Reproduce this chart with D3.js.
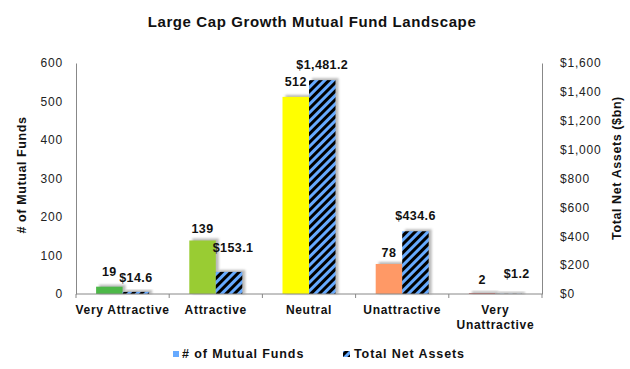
<!DOCTYPE html>
<html><head><meta charset="utf-8">
<script src="https://cdn.jsdelivr.net/npm/d3@7"></script>
<style>body{margin:0;background:#fff}svg{display:block;font-family:"Liberation Sans",Arial,sans-serif}</style>
</head><body><svg id="c" width="630" height="369"></svg>
<script>
const categories = ["Very Attractive","Attractive","Neutral","Unattractive","Very Unattractive"];
const fundCounts = [19,139,512,78,2];
const netAssets = [14.6,153.1,1481.2,434.6,1.2];
const fundColors = ["#4db848","#99cc33","#ffff00","#ff9966","#c0504d"];
const leftTicks = [0,100,200,300,400,500,600];
const rightTicks = [0,200,400,600,800,1000,1200,1400,1600];

const svg = d3.select("#c");
const m = {l:76, r:542, t:63, b:294};
const defs = svg.append("defs");
const pat = defs.append("pattern").attr("id","hatch").attr("patternUnits","userSpaceOnUse")
  .attr("width",6).attr("height",6).attr("patternTransform","rotate(45)");
pat.append("rect").attr("width",6).attr("height",6).attr("fill","#66aaff");
pat.append("rect").attr("width",3).attr("height",6).attr("fill","#000");
const f = defs.append("filter").attr("id","blur").attr("x","-20%").attr("y","-20%").attr("width","140%").attr("height","140%");
f.append("feGaussianBlur").attr("stdDeviation",1);

const x = d3.scaleBand().domain(categories).range([m.l,m.r]).paddingInner(0).paddingOuter(0);
const yL = d3.scaleLinear().domain([0,600]).range([m.b,m.t]);
const yR = d3.scaleLinear().domain([0,1600]).range([m.b,m.t]);
const bw = 26.5;

svg.append("text").attr("x",312).attr("y",27).attr("text-anchor","middle")
  .attr("font-size",15).attr("letter-spacing",0.6).attr("font-weight","bold").attr("fill","#111")
  .text("Large Cap Growth Mutual Fund Landscape");

const g = svg.append("g");
categories.forEach((c,i)=>{
  const cx = x(c)+x.bandwidth()/2;
  g.append("rect").attr("x",cx-bw+3).attr("y",yL(fundCounts[i])-2).attr("width",bw).attr("height",m.b-yL(fundCounts[i])+2)
    .attr("fill","#aaa").attr("filter","url(#blur)").attr("opacity",0.8);
  g.append("rect").attr("x",cx+3).attr("y",yR(netAssets[i])-2).attr("width",bw).attr("height",m.b-yR(netAssets[i])+2)
    .attr("fill","#aaa").attr("filter","url(#blur)").attr("opacity",0.8);
});
categories.forEach((c,i)=>{
  const cx = x(c)+x.bandwidth()/2;
  g.append("rect").attr("x",cx-bw).attr("y",yL(fundCounts[i])).attr("width",bw)
    .attr("height",m.b-yL(fundCounts[i])).attr("fill",fundColors[i]);
  g.append("rect").attr("x",cx).attr("y",yR(netAssets[i])).attr("width",bw)
    .attr("height",m.b-yR(netAssets[i])).attr("fill","url(#hatch)");
});
// value labels (small offsets to avoid overlap, as in the original)
const fundLabelGap = [11,7,11,7,9];
const assetLabelGap = [10,20,11,11,16];
const assetLabelShift = [0,4,0,0,8];
categories.forEach((c,i)=>{
  const cx = x(c)+x.bandwidth()/2;
  svg.append("text").attr("x",cx-bw/2).attr("y",yL(fundCounts[i])-fundLabelGap[i]).attr("text-anchor","middle")
    .attr("font-size",12.5).attr("letter-spacing",0.4).attr("font-weight","bold").attr("fill","#111").text(fundCounts[i]);
  svg.append("text").attr("x",cx+bw/2+assetLabelShift[i]).attr("y",yR(netAssets[i])-assetLabelGap[i]).attr("text-anchor","middle")
    .attr("font-size",12.5).attr("letter-spacing",0.4).attr("font-weight","bold").attr("fill","#111")
    .text("$"+d3.format(",.1f")(netAssets[i]));
});

const axL = svg.append("g").attr("transform",`translate(${m.l},0)`)
  .call(d3.axisLeft(yL).tickValues(leftTicks).tickSize(0).tickPadding(13));
const axR = svg.append("g").attr("transform",`translate(${m.r},0)`)
  .call(d3.axisRight(yR).tickValues(rightTicks).tickSize(0).tickPadding(18).tickFormat(d=>"$"+d3.format(",")(d)));
[axL,axR].forEach(a=>{
  a.select(".domain").attr("stroke","#888");
  a.selectAll("text").attr("font-size",12).attr("letter-spacing",0.8).attr("fill","#222")
    .attr("font-family","Liberation Sans, Arial, sans-serif");
});
const axB = svg.append("g").attr("transform",`translate(0,${m.b})`);
axB.append("line").attr("x1",m.l).attr("x2",m.r).attr("stroke","#888");
d3.range(categories.length+1).forEach(k=>{
  const xx = m.l + k*x.bandwidth();
  axB.append("line").attr("x1",xx).attr("x2",xx).attr("y1",0).attr("y2",4).attr("stroke","#888");
});
categories.forEach((c,i)=>{
  const cx = x(c)+x.bandwidth()/2;
  const lines = c==="Very Unattractive" ? ["Very","Unattractive"] : [c];
  lines.forEach((t,j)=>{
    axB.append("text").attr("x",cx).attr("y",20+j*15).attr("text-anchor","middle")
      .attr("font-size",12).attr("letter-spacing",0.7).attr("font-weight","bold").attr("fill","#111").text(t);
  });
});

svg.append("text").attr("transform",`translate(26,175) rotate(-90)`).attr("text-anchor","middle")
  .attr("font-size",12.5).attr("letter-spacing",0.6).attr("font-weight","bold").attr("fill","#111").text("# of Mutual Funds");
svg.append("text").attr("transform",`translate(621,168) rotate(-90)`).attr("text-anchor","middle")
  .attr("font-size",12.5).attr("letter-spacing",0.6).attr("font-weight","bold").attr("fill","#111").text("Total Net Assets ($bn)");

const lg = svg.append("g");
lg.append("rect").attr("x",173).attr("y",351).attr("width",6).attr("height",6).attr("fill","#66aaff");
lg.append("text").attr("x",182).attr("y",358).attr("font-size",12.5).attr("letter-spacing",0.9).attr("font-weight","bold").attr("fill","#111").text("# of Mutual Funds");
lg.append("rect").attr("x",343).attr("y",351).attr("width",7).attr("height",6).attr("fill","url(#hatch)");
lg.append("text").attr("x",354).attr("y",358).attr("font-size",12.5).attr("letter-spacing",0.9).attr("font-weight","bold").attr("fill","#111").text("Total Net Assets");
</script></body></html>
